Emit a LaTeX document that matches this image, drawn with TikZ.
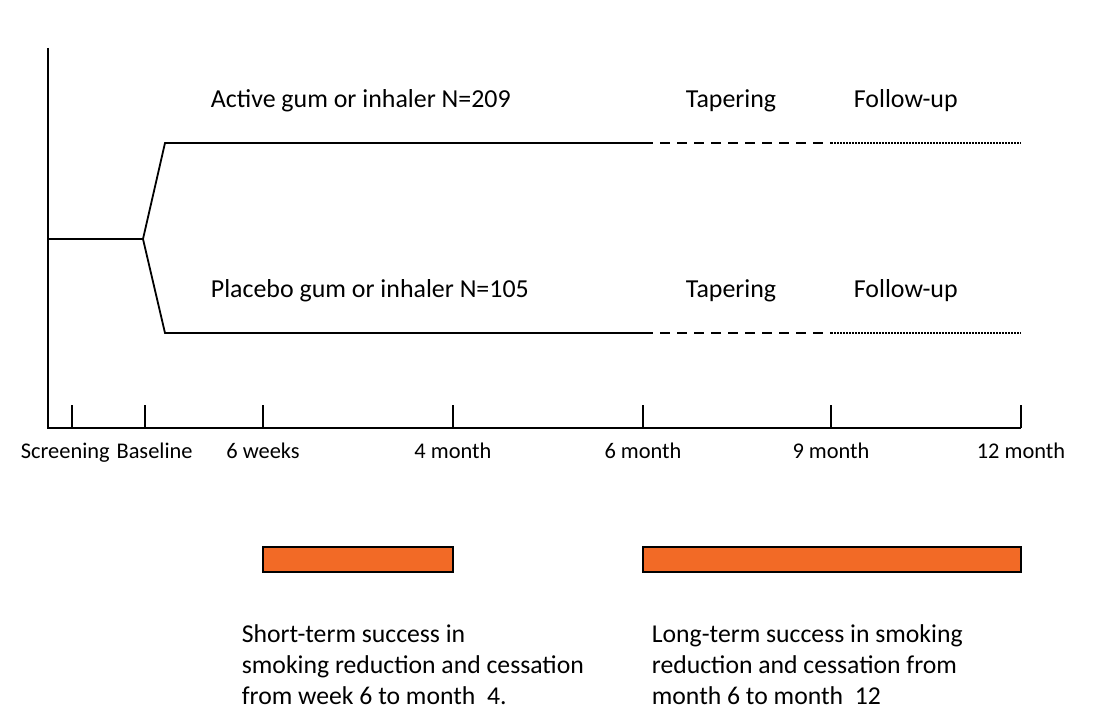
\documentclass[tikz,border=0pt]{standalone}
\usepackage{fontspec}
\setmainfont{Carlito}
\usepackage{xcolor}
\usetikzlibrary{positioning}
\definecolor{barorange}{HTML}{F26A26}

\begin{document}
\begin{tikzpicture}[x=1bp,y=-1bp,line width=1.8bp,
  armlabel/.style={anchor=base west,font=\fontsize{26}{30}\selectfont,inner sep=0pt},
  ticklabel/.style={anchor=base,font=\fontsize{22.5}{26}\selectfont,inner sep=0pt},
  notetext/.style={anchor=north west,align=left,inner sep=0pt,font=\fontsize{25.8}{31}\selectfont},
  taperline/.style={dash pattern=on 10bp off 7bp},
  followline/.style={line width=1.4bp,dash pattern=on 1.5bp off 1.5bp},
  successbar/.style={draw=black,fill=barorange,line width=1.5bp}]
\useasboundingbox (0,0) rectangle (1110,723);
% axes
\coordinate (top) at (48,48);
\coordinate (origin) at (48,428);
\coordinate (axisend) at (1021,428);
\draw (top) -- (origin) -- (axisend);
% ticks and labels
\foreach \name/\x in {scr/72,base/145,wk/263,mfour/453,msix/643,mnine/831,mtwelve/1021}{
  \coordinate (\name) at (\x,428);
  \draw (\name) -- ++(0,-23);
}
\node[ticklabel,anchor=base west] (lscr) at (20,458) {Screening};
\node[ticklabel,anchor=base west] (lbase) at ([xshift=5bp]lscr.base east) {Baseline};
\foreach \name/\lab in {wk/6 weeks,mfour/4 month,msix/6 month,mnine/9 month,mtwelve/12 month}{
  \node[ticklabel] (l\name) at ([yshift=-30bp]\name) {\lab};
}
% randomisation
\coordinate (start) at (48,239);
\coordinate (split) at (143,239);
\coordinate (actA) at (165,143);
\coordinate (actB) at (643,143);
\coordinate (actC) at (831,143);
\coordinate (actD) at (1021,143);
\coordinate (plaA) at (165,333);
\coordinate (plaB) at (643,333);
\coordinate (plaC) at (831,333);
\coordinate (plaD) at (1021,333);
\draw (start) -- (split) -- (actA) -- (actB);
\draw (split) -- (plaA) -- (plaB);
\draw[taperline] (actB) -- (actC);
\draw[taperline] (plaB) -- (plaC);
\draw[followline] (actC) -- (actD);
\draw[followline] (plaC) -- (plaD);
% arm labels
\node[armlabel] (active) at (210,108) {Active gum or inhaler N=209};
\node[armlabel] (taperact) at (685,108) {Tapering};
\node[armlabel] (followact) at (853,108) {Follow-up};
\node[armlabel] (placebo) at (210,297) {Placebo gum or inhaler N=105};
\node[armlabel] (taperpla) at (685,297) {Tapering};
\node[armlabel] (followpla) at (853,297) {Follow-up};
% success periods
\draw[successbar] (263,547) rectangle (453,572);
\draw[successbar] (643,547) rectangle (1021,572);
\node[notetext] (short) at (241,624) {Short-term success in\\smoking reduction and cessation\\from week 6 to month\ \ 4.};
\node[notetext] (long) at (651,624) {Long-term success in smoking\\reduction and cessation from\\month 6 to month\ \ 12};
\end{tikzpicture}
\end{document}
